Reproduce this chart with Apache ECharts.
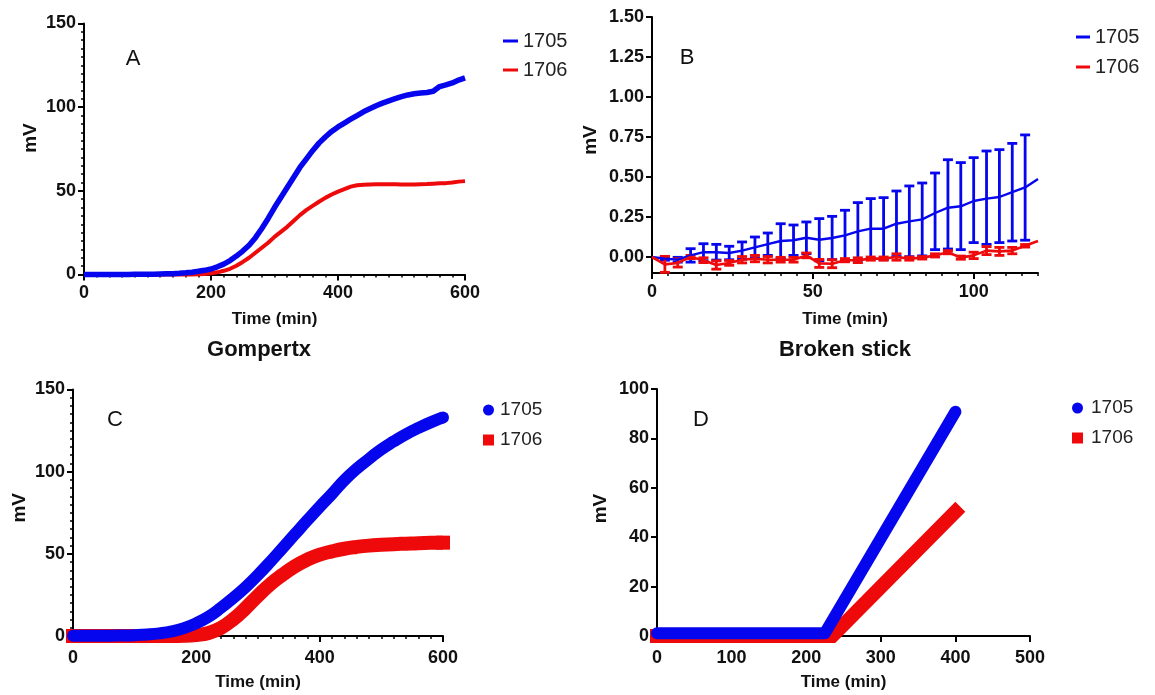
<!DOCTYPE html>
<html>
<head>
<meta charset="utf-8">
<script src="https://cdn.jsdelivr.net/npm/echarts@6/dist/echarts.min.js"></script>
<style>
  html, body { margin: 0; padding: 0; background: #fff; }
  #chart { width: 1155px; height: 695px; }
</style>
</head>
<body>
<div id="chart"></div>
<script>
// panel A - raw signal, 10 min steps
const aTime = [0, 10, 20, 30, 40, 50, 60, 70, 80, 90, 100, 110, 120, 130, 140, 150, 160, 170, 180, 190,
  200, 210, 220, 230, 240, 250, 260, 270, 280, 290, 300, 310, 320, 330, 340, 350, 360, 370, 380, 390,
  400, 410, 420, 430, 440, 450, 460, 470, 480, 490, 500, 510, 520, 530, 540, 550, 560, 570, 580, 590, 600]
const a1705 = [0, 0, 0, 0, 0, 0, 0, 0, 0.1, 0.1, 0.2, 0.2, 0.3, 0.4, 0.5, 0.7, 1.0, 1.4, 1.9, 2.5,
  3.3, 4.6, 6.2, 8.3, 11.0, 14.0, 17.5, 22.0, 27.5, 33.5, 40.0, 46.0, 52.0, 58.0, 64.0, 69.0, 74.0, 78.5, 82.2, 85.5,
  88.2, 90.5, 92.8, 95.0, 97.2, 99.0, 100.8, 102.4, 103.8, 105.1, 106.3, 107.3, 108.0, 108.5, 108.8, 109.5, 112.3, 113.3, 114.5, 116.2, 117.5]
const a1706 = [0, 0, 0, 0, 0, 0, 0, 0, 0, 0, 0, 0, 0, 0, 0, 0, 0, 0, 0.1, 0.3,
  0.7, 1.3, 2.2, 3.4, 5.2, 7.5, 10.0, 13.0, 16.0, 19.0, 22.5, 25.5, 28.5, 32.0, 35.5, 38.5, 41.0, 43.5, 45.8, 47.8,
  49.5, 51.0, 52.5, 53.3, 53.6, 53.8, 54.0, 54.0, 54.0, 53.9, 53.8, 53.8, 53.8, 54.0, 54.1, 54.3, 54.5, 54.6, 55.0, 55.5, 55.8]

// panel B - first 120 min with error bars
const bTime = [0, 4, 8, 12, 16, 20, 24, 28, 32, 36, 40, 44, 48, 52, 56, 60, 64, 68, 72, 76, 80, 84, 88, 92, 96, 100, 104, 108, 112, 116, 120]
const b1705Mean = [0, -0.01, -0.017, 0.01, 0.03, 0.03, 0.025, 0.04, 0.06, 0.08, 0.1, 0.105, 0.12, 0.108, 0.119, 0.135,
  0.16, 0.177, 0.177, 0.208, 0.223, 0.235, 0.275, 0.308, 0.317, 0.35, 0.365, 0.375, 0.405, 0.435, 0.488]
const b1705Low = [0, -0.02, -0.032, -0.032, -0.023, -0.019, -0.017, -0.014, -0.005, 0.01, -0.008, 0.01, 0.021, -0.024, -0.016, -0.022,
  -0.02, -0.011, -0.017, 0.003, 0.002, 0.007, 0.046, 0.05, 0.046, 0.09, 0.079, 0.09, 0.1, 0.105, 0.488]
const b1705High = [0, 0, -0.002, 0.052, 0.083, 0.079, 0.067, 0.094, 0.125, 0.15, 0.208, 0.2, 0.219, 0.24, 0.254, 0.292,
  0.34, 0.365, 0.371, 0.4125, 0.444, 0.4625, 0.525, 0.608, 0.59, 0.621, 0.6625, 0.671, 0.71, 0.763, 0.488]
const b1706Mean = [0, -0.046, -0.037, 0, -0.02, -0.05, -0.037, -0.017, -0.01, -0.017, -0.017, -0.017, 0.01, -0.04, -0.042, -0.02,
  -0.02, -0.01, -0.01, 0, -0.01, -0.005, 0.01, 0.03, -0.004, 0.01, 0.04, 0.035, 0.04, 0.07, 0.1]
const b1706Err = [0, 0.05, 0.026, 0.01, 0.015, 0.026, 0.015, 0.02, 0.02, 0.02, 0.015, 0.015, 0.015, 0.025, 0.025, 0.01,
  0.015, 0.01, 0.01, 0.02, 0.01, 0.008, 0.01, 0.01, 0.01, 0.02, 0.025, 0.025, 0.02, 0.008, 0]

// panel C - Gompertz fit
const cTime = [0, 20, 40, 60, 80, 100, 120, 140, 160, 180, 200, 220, 240, 260, 280, 300,
  320, 340, 360, 380, 400, 420, 440, 460, 480, 500, 520, 540, 560, 580, 600]
const c1705 = [0.2, 0.2, 0.2, 0.2, 0.3, 0.5, 0.9, 1.6, 2.8, 4.8, 7.8, 11.8, 17.2, 23.2, 29.8, 37.2,
  45.2, 53.6, 62.0, 70.4, 78.6, 86.5, 94.8, 101.8, 107.8, 113.6, 118.4, 122.8, 126.6, 130.0, 133.0]
const c1706 = [0, 0, 0, 0, 0, 0, 0, 0, 0, 0.1, 0.6, 1.8, 5.0, 10.2, 17.0, 24.5,
  31.5, 37.3, 42.5, 46.5, 49.5, 51.5, 53.1, 54.2, 55.0, 55.5, 55.9, 56.2, 56.5, 56.7, 56.8]

// panel D - broken stick fit
const dTime1705 = [0, 225, 400]
const d1705 = [1.1, 1.1, 90.8]
const dTime1706 = [0, 235, 400]
const d1706 = [0, 0, 50.3]

const BLUE = '#0606ee'
const RED = '#ee0a0a'
const FONT = 'Liberation Sans'

function pairs(xs, ys) {
  return xs.map((x, i) => [x, ys[i]])
}

const bBars1705 = bTime.map((t, i) => [t, b1705Low[i], b1705High[i]]).filter(d => d[2] - d[1] > 0.001)
const bBars1706 = bTime
  .map((t, i) => [t, b1706Mean[i] - b1706Err[i], b1706Mean[i] + b1706Err[i]])
  .filter(d => d[2] - d[1] > 0.001)

function errorBars(color) {
  return function (params, api) {
    const t = api.value(0)
    const lo = api.coord([t, api.value(1)])
    const hi = api.coord([t, api.value(2)])
    const cap = 5
    const style = { stroke: color, lineWidth: 2.8 }
    return {
      type: 'group',
      children: [
        { type: 'line', shape: { x1: lo[0], y1: lo[1], x2: hi[0], y2: hi[1] }, style },
        { type: 'line', shape: { x1: lo[0] - cap, y1: lo[1], x2: lo[0] + cap, y2: lo[1] }, style },
        { type: 'line', shape: { x1: hi[0] - cap, y1: hi[1], x2: hi[0] + cap, y2: hi[1] }, style },
      ],
    }
  }
}

// end caps for the thick fitted curves (round for 1705, square for 1706)
function endCaps(xs, ys, symbol, size) {
  return [xs[0], xs[xs.length - 1]].map((x, k) => ({
    value: [x, ys[k === 0 ? 0 : ys.length - 1]], symbol: symbol, symbolSize: size,
  }))
}

const lineAxis = { show: true, onZero: false, lineStyle: { color: '#000', width: 2 } }
const majorTick = { show: true, length: 6, lineStyle: { color: '#000', width: 2 } }
const minorTick = { show: true, splitNumber: 10, length: 3, lineStyle: { color: '#000', width: 1.5 } }
const tickLabel = { color: '#111', fontFamily: FONT, fontWeight: 'bold', fontSize: 18 }
const nameStyle = { color: '#111', fontFamily: FONT, fontWeight: 'bold', fontSize: 17 }
function mvStyle(shift) {
  return { color: '#111', fontFamily: FONT, fontWeight: 'bold', fontSize: 19, padding: [0, 0, 0, shift] }
}

function legend(left, top, icon1, icon2, w, h, gap, pad, size) {
  return {
    left: left,
    top: top,
    orient: 'vertical',
    itemWidth: w,
    itemHeight: h,
    itemGap: gap,
    selectedMode: false,
    itemStyle: { borderWidth: 0 },
    data: [{ name: '1705', icon: icon1 }, { name: '1706', icon: icon2 }],
    textStyle: { color: '#222', fontFamily: FONT, fontSize: size, lineHeight: 20, padding: [0, 0, 0, pad] },
  }
}

function txt(x, y, text, font) {
  return {
    type: 'text',
    x: x,
    y: y,
    style: { text: text, font: font, fill: '#111', textAlign: 'center', textVerticalAlign: 'middle', align: 'center', verticalAlign: 'middle' },
  }
}

const myChart = echarts.init(document.getElementById('chart'))

const option = {
  backgroundColor: '#fff',
  animation: false,
  grid: [
    { left: 84, top: 23.5, width: 381, height: 251, outerBoundsMode: 'none' },
    { left: 652, top: 17, width: 386, height: 256, outerBoundsMode: 'none' },
    { left: 652, top: 17, width: 386, height: 240, outerBoundsMode: 'none' },
    { left: 73, top: 389.5, width: 370, height: 246.5, outerBoundsMode: 'none' },
    { left: 657, top: 389, width: 373, height: 247, outerBoundsMode: 'none' },
  ],
  xAxis: [
    {
      gridIndex: 0, type: 'value', min: 0, max: 600, interval: 200,
      axisLine: lineAxis, axisTick: majorTick, minorTick: minorTick, splitLine: { show: false },
      axisLabel: { ...tickLabel, margin: 10 },
      name: 'Time (min)', nameLocation: 'middle', nameGap: 36, nameTextStyle: nameStyle,
    },
    {
      gridIndex: 1, type: 'value', min: 0, max: 120, interval: 50,
      axisLine: lineAxis, axisTick: majorTick, splitLine: { show: false },
      axisLabel: { ...tickLabel, margin: 10, showMaxLabel: false },
      name: 'Time (min)', nameLocation: 'middle', nameGap: 38, nameTextStyle: nameStyle,
    },
    {
      // minor ticks every 5 min for panel B
      gridIndex: 1, type: 'value', min: 0, max: 120, interval: 5, position: 'bottom',
      axisLine: { show: false, onZero: false }, axisLabel: { show: false }, splitLine: { show: false },
      axisTick: { show: true, length: 3, lineStyle: { color: '#000', width: 1.5 } },
    },
    { gridIndex: 2, type: 'value', min: 0, max: 120, show: false },
    {
      gridIndex: 3, type: 'value', min: 0, max: 600, interval: 200,
      axisLine: lineAxis, axisTick: majorTick, minorTick: minorTick, splitLine: { show: false },
      axisLabel: { ...tickLabel, margin: 13 },
      name: 'Time (min)', nameLocation: 'middle', nameGap: 38, nameTextStyle: nameStyle,
    },
    {
      gridIndex: 4, type: 'value', min: 0, max: 500, interval: 100,
      axisLine: lineAxis, axisTick: majorTick, splitLine: { show: false },
      axisLabel: { ...tickLabel, margin: 13 },
      name: 'Time (min)', nameLocation: 'middle', nameGap: 38, nameTextStyle: nameStyle,
    },
  ],
  yAxis: [
    {
      gridIndex: 0, type: 'value', min: 0, max: 150, interval: 50,
      axisLine: lineAxis, axisTick: majorTick, minorTick: minorTick, splitLine: { show: false },
      axisLabel: { ...tickLabel, margin: 8 },
      name: 'mV', nameLocation: 'middle', nameGap: 44, nameTextStyle: mvStyle(22),
    },
    {
      gridIndex: 1, type: 'value', min: -0.1, max: 1.5,
      axisLine: lineAxis, axisTick: { show: false }, axisLabel: { show: false }, splitLine: { show: false },
      name: 'mV', nameLocation: 'middle', nameGap: 52, nameTextStyle: mvStyle(10),
    },
    {
      gridIndex: 2, type: 'value', min: 0, max: 1.5, interval: 0.25,
      axisLine: { show: false }, axisTick: majorTick, splitLine: { show: false },
      axisLabel: { ...tickLabel, margin: 8, formatter: v => v.toFixed(2) },
    },
    {
      gridIndex: 3, type: 'value', min: 0, max: 150, interval: 50,
      axisLine: lineAxis, axisTick: majorTick, minorTick: minorTick, splitLine: { show: false },
      axisLabel: { ...tickLabel, margin: 8 },
      name: 'mV', nameLocation: 'middle', nameGap: 44, nameTextStyle: mvStyle(10),
    },
    {
      gridIndex: 4, type: 'value', min: 0, max: 100, interval: 20,
      axisLine: lineAxis, axisTick: majorTick, splitLine: { show: false },
      axisLabel: { ...tickLabel, margin: 8 },
      name: 'mV', nameLocation: 'middle', nameGap: 47, nameTextStyle: mvStyle(8),
    },
  ],
  legend: [
    legend(498, 26, 'rect', 'rect', 15, 3, 9, 0, 20),
    legend(1071, 22, 'rect', 'rect', 14, 3, 10, 0, 20),
    legend(478, 395, 'circle', 'rect', 11, 11, 10, 1, 19),
    legend(1067, 393, 'circle', 'rect', 11, 11, 10, 3, 19),
  ],
  graphic: [
    txt(133, 59, 'A', '22px "Liberation Sans"'),
    txt(687, 58, 'B', '22px "Liberation Sans"'),
    txt(115, 420, 'C', '22px "Liberation Sans"'),
    txt(701, 420, 'D', '22px "Liberation Sans"'),
    txt(259, 350, 'Gompertx', 'bold 22px "Liberation Sans"'),
    txt(845, 350, 'Broken stick', 'bold 22px "Liberation Sans"'),
  ],
  series: [
    // A
    {
      name: '1706', type: 'line', xAxisIndex: 0, yAxisIndex: 0, data: pairs(aTime, a1706),
      showSymbol: false, clip: false, lineStyle: { color: RED, width: 4 }, itemStyle: { color: RED },
    },
    {
      name: '1705', type: 'line', xAxisIndex: 0, yAxisIndex: 0, data: pairs(aTime, a1705),
      showSymbol: false, clip: false, lineStyle: { color: BLUE, width: 5.5 }, itemStyle: { color: BLUE },
    },
    // B
    {
      name: '1705', type: 'custom', xAxisIndex: 1, yAxisIndex: 1, data: bBars1705,
      renderItem: errorBars(BLUE), itemStyle: { color: BLUE }, clip: false,
    },
    {
      name: '1705', type: 'line', xAxisIndex: 1, yAxisIndex: 1, data: pairs(bTime, b1705Mean),
      showSymbol: false, clip: false, lineStyle: { color: BLUE, width: 2.4 }, itemStyle: { color: BLUE },
    },
    {
      name: '1706', type: 'custom', xAxisIndex: 1, yAxisIndex: 1, data: bBars1706,
      renderItem: errorBars(RED), itemStyle: { color: RED }, clip: false,
    },
    {
      name: '1706', type: 'line', xAxisIndex: 1, yAxisIndex: 1, data: pairs(bTime, b1706Mean),
      showSymbol: false, clip: false, lineStyle: { color: RED, width: 2.6 }, itemStyle: { color: RED },
    },
    // C
    {
      name: '1706', type: 'line', xAxisIndex: 4, yAxisIndex: 3, data: pairs(cTime, c1706),
      showSymbol: false, clip: false, smooth: true,
      lineStyle: { color: RED, width: 14, join: 'round' }, itemStyle: { color: RED },
    },
    {
      name: '1706', type: 'scatter', xAxisIndex: 4, yAxisIndex: 3, data: endCaps(cTime, c1706, 'rect', 14),
      itemStyle: { color: RED, opacity: 1 }, clip: false, silent: true,
    },
    {
      name: '1705', type: 'line', xAxisIndex: 4, yAxisIndex: 3, data: pairs(cTime, c1705),
      showSymbol: false, clip: false, smooth: true,
      lineStyle: { color: BLUE, width: 12, join: 'round' }, itemStyle: { color: BLUE },
    },
    {
      name: '1705', type: 'scatter', xAxisIndex: 4, yAxisIndex: 3, data: endCaps(cTime, c1705, 'circle', 12),
      itemStyle: { color: BLUE, opacity: 1 }, clip: false, silent: true,
    },
    // D
    {
      name: '1706', type: 'line', xAxisIndex: 5, yAxisIndex: 4, data: pairs(dTime1706, d1706),
      showSymbol: false, clip: false, lineStyle: { color: RED, width: 14, cap: 'square', join: 'miter' }, itemStyle: { color: RED },
    },
    {
      name: '1705', type: 'line', xAxisIndex: 5, yAxisIndex: 4, data: pairs(dTime1705, d1705),
      showSymbol: false, clip: false, lineStyle: { color: BLUE, width: 12, cap: 'round', join: 'round' }, itemStyle: { color: BLUE },
    },
  ],
}

myChart.setOption(option)
</script>
</body>
</html>
